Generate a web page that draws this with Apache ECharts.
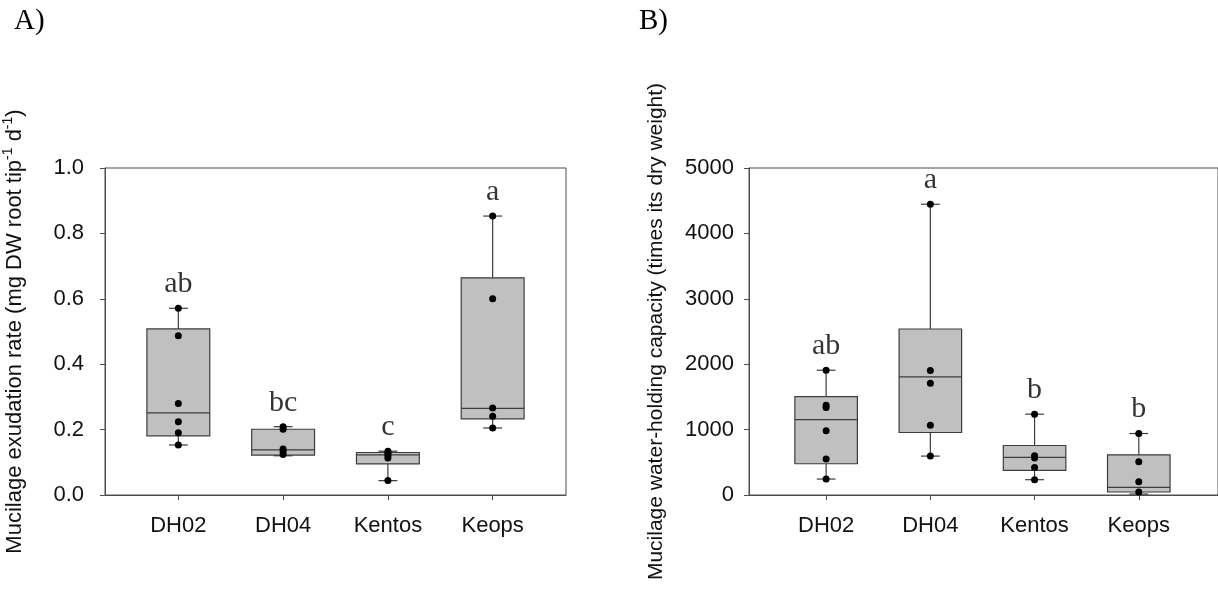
<!DOCTYPE html>
<html>
<head>
<meta charset="utf-8">
<script src="https://cdn.jsdelivr.net/npm/echarts@6/dist/echarts.min.js"></script>
<style>
  html, body { margin: 0; padding: 0; background: #fff; }
  #chart { width: 1218px; height: 608px; }
</style>
</head>
<body>
<div id="chart"></div>
<script>
// Cultivars shown on both panels
const categories = ['DH02', 'DH04', 'Kentos', 'Keops'];

// Panel A: mucilage exudation rate, box stats [min, Q1, median, Q3, max]
const exudationBoxes = [
  [0.153, 0.181, 0.251, 0.508, 0.571],
  [0.120, 0.122, 0.138, 0.201, 0.209],
  [0.044, 0.095, 0.123, 0.130, 0.134],
  [0.205, 0.233, 0.265, 0.664, 0.853]
];
// Panel A: individual replicates
const exudationPoints = [
  [0.571, 0.487, 0.280, 0.224, 0.190, 0.153],
  [0.209, 0.201, 0.141, 0.133, 0.124],
  [0.134, 0.128, 0.121, 0.113, 0.044],
  [0.853, 0.600, 0.266, 0.241, 0.205]
];
const exudationLetters = ['ab', 'bc', 'c', 'a'];
const exudationTicks = [0, 0.2, 0.4, 0.6, 0.8, 1.0];

// Panel B: mucilage water-holding capacity, box stats [min, Q1, median, Q3, max]
const holdingBoxes = [
  [244, 478, 1154, 1505, 1908],
  [595, 956, 1805, 2538, 4446],
  [234, 376, 574, 757, 1236],
  [15, 46, 116, 615, 940]
];
// Panel B: individual replicates
const holdingPoints = [
  [1908, 1373, 1337, 981, 549, 244],
  [4446, 1902, 1709, 1068, 595],
  [1236, 600, 565, 422, 234],
  [940, 508, 203, 46]
];
const holdingLetters = ['ab', 'a', 'b', 'b'];
const holdingTicks = [0, 1000, 2000, 3000, 4000, 5000];

const AXIS_COLOR = '#4d4d4d';
const BOX_STROKE = '#3c3c3c';
const BOX_FILL = '#c0c0c0';
const BOX_WIDTH = 0.6;   // in category units
const CAP_WIDTH = 0.18;
const SANS = 'Liberation Sans, Arial, sans-serif';
const SERIF = 'Liberation Serif, Times New Roman, serif';

function boxSeries(idx, boxes) {
  return {
    type: 'custom',
    xAxisIndex: idx,
    yAxisIndex: idx,
    silent: true,
    z: 2,
    data: boxes.map((b, i) => [i].concat(b)),
    encode: { x: 0, y: [1, 2, 3, 4, 5] },
    renderItem: function (params, api) {
      const i = api.value(0);
      const pMin = api.coord([i, api.value(1)]);
      const yQ1 = api.coord([i, api.value(2)])[1];
      const yMed = api.coord([i, api.value(3)])[1];
      const yQ3 = api.coord([i, api.value(4)])[1];
      const yMax = api.coord([i, api.value(5)])[1];
      const xc = pMin[0];
      const yMin = pMin[1];
      const w = api.size([BOX_WIDTH, 0])[0];
      const c = api.size([CAP_WIDTH, 0])[0];
      const line = (x1, y1, x2, y2) => ({
        type: 'line',
        shape: { x1: x1, y1: y1, x2: x2, y2: y2 },
        style: { stroke: BOX_STROKE, lineWidth: 1.2 }
      });
      return {
        type: 'group',
        children: [
          line(xc, yMax, xc, yQ3),
          line(xc, yQ1, xc, yMin),
          line(xc - c / 2, yMax, xc + c / 2, yMax),
          line(xc - c / 2, yMin, xc + c / 2, yMin),
          {
            type: 'rect',
            shape: { x: xc - w / 2, y: yQ3, width: w, height: yQ1 - yQ3 },
            style: { fill: BOX_FILL, stroke: BOX_STROKE, lineWidth: 1.2 }
          },
          line(xc - w / 2, yMed, xc + w / 2, yMed)
        ]
      };
    }
  };
}

function pointSeries(idx, points) {
  const data = [];
  points.forEach((arr, i) => arr.forEach(v => data.push([i, v])));
  return {
    type: 'scatter',
    xAxisIndex: idx,
    yAxisIndex: idx,
    silent: true,
    z: 3,
    symbol: 'circle',
    symbolSize: 7,
    itemStyle: { color: '#000', opacity: 1 },
    data: data
  };
}

function letterSeries(idx, boxes, letters) {
  return {
    type: 'scatter',
    xAxisIndex: idx,
    yAxisIndex: idx,
    silent: true,
    symbolSize: 0,
    z: 4,
    data: boxes.map((b, i) => ({ value: [i, b[4]], letter: letters[i] })),
    label: {
      show: true,
      position: 'top',
      distance: 9,
      formatter: p => p.data.letter,
      fontFamily: SERIF,
      fontSize: 30,
      color: '#000'
    }
  };
}

function xAxis(idx, min, max) {
  return {
    type: 'value',
    gridIndex: idx,
    min: min,
    max: max,
    splitLine: { show: false },
    axisLine: { show: true, onZero: false, lineStyle: { color: AXIS_COLOR, width: 1 } },
    axisTick: {
      show: true, inside: false, length: 5,
      customValues: [0, 1, 2, 3],
      lineStyle: { color: AXIS_COLOR }
    },
    axisLabel: {
      show: true,
      customValues: [0, 1, 2, 3],
      formatter: v => categories[Math.round(v)],
      margin: 20,
      fontFamily: SANS,
      fontSize: 22,
      color: '#111'
    }
  };
}

function yAxis(idx, ticks, fmt, name, gap, labelMargin, nameSize) {
  return {
    type: 'value',
    gridIndex: idx,
    min: ticks[0],
    max: ticks[ticks.length - 1],
    interval: ticks[1] - ticks[0],
    splitLine: { show: false },
    axisLine: { show: true, onZero: false, lineStyle: { color: AXIS_COLOR, width: 1 } },
    axisTick: { show: true, inside: false, length: 5, lineStyle: { color: AXIS_COLOR } },
    axisLabel: {
      formatter: fmt,
      margin: labelMargin,
      fontFamily: SANS,
      fontSize: 22,
      color: '#111'
    },
    name: name,
    nameLocation: 'middle',
    nameRotate: 90,
    nameGap: gap,
    nameTextStyle: {
      fontFamily: SANS,
      fontSize: nameSize,
      color: '#111',
      lineHeight: 28,
      rich: {
        sup: { fontFamily: SANS, fontSize: 14, color: '#111', verticalAlign: 'top', lineHeight: 16 }
      }
    }
  };
}

const chart = echarts.init(document.getElementById('chart'), null, { renderer: 'canvas' });
chart.setOption({
  animation: false,
  backgroundColor: '#fff',
  title: [
    { text: 'A)', left: 14, top: 7, padding: 0,
      textStyle: { fontFamily: SERIF, fontSize: 29, fontWeight: 'normal', color: '#000' } },
    { text: 'B)', left: 639, top: 7, padding: 0,
      textStyle: { fontFamily: SERIF, fontSize: 29, fontWeight: 'normal', color: '#000' } }
  ],
  grid: [
    { left: 99, top: 168, width: 467, height: 327, show: true, borderColor: AXIS_COLOR, borderWidth: 1, backgroundColor: 'transparent' },
    { left: 749, top: 168, width: 471, height: 327, show: true, borderColor: AXIS_COLOR, borderWidth: 1, backgroundColor: 'transparent' }
  ],
  xAxis: [
    xAxis(0, -0.7, 3.7),
    xAxis(1, -0.74, 3.76)
  ],
  yAxis: [
    yAxis(0, exudationTicks, v => v.toFixed(1),
      'Mucilage exudation rate (mg DW root tip{sup|-1} d{sup|-1})', 76, 21, 22),
    yAxis(1, holdingTicks, v => String(v),
      'Mucilage water-holding capacity (times its dry weight)', 79, 15, 21)
  ],
  series: [
    boxSeries(0, exudationBoxes),
    pointSeries(0, exudationPoints),
    letterSeries(0, exudationBoxes, exudationLetters),
    boxSeries(1, holdingBoxes),
    pointSeries(1, holdingPoints),
    letterSeries(1, holdingBoxes, holdingLetters)
  ]
});
</script>
</body>
</html>
